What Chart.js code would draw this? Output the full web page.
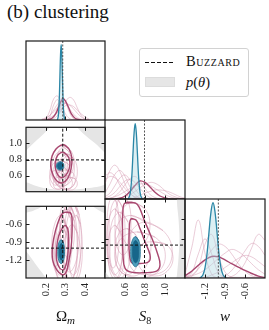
<!DOCTYPE html>
<html>
<head>
<meta charset="utf-8">
<script src="https://cdn.jsdelivr.net/npm/chart.js@4.4.1/dist/chart.umd.min.js"></script>
<style>
  body { margin: 0; width: 269px; height: 330px; background: #fff; position: relative; overflow: hidden;
         font-family: "Liberation Serif", serif; color: #111; }
  canvas { position: absolute; }
  #title { position: absolute; left: 7px; top: 1px; font-size: 19px; white-space: nowrap; }
  #legend { position: absolute; left: 139px; top: 48px; width: 110px; height: 49px; box-sizing: border-box;
            border: 1px solid #d2d2d2; border-radius: 3px; background: #fff; z-index: 5; }
  #legend .dash { position: absolute; left: 5px; top: 12.5px; width: 30px; height: 1.3px;
                  background: repeating-linear-gradient(to right, #111 0 4px, transparent 4px 6px); }
  #legend .box { position: absolute; left: 5px; top: 28px; width: 30px; height: 10px; box-sizing: border-box;
                 background: #e6e6e6; border: 1px solid #dcdcdc; }
  #legend .lab { position: absolute; left: 46px; font-size: 14.5px; line-height: 14px; white-space: nowrap; }
</style>
</head>
<body>
<div id="title">(b) clustering</div>
<div id="legend">
  <span class="dash"></span><span class="lab" style="top:5px; font-variant: small-caps; letter-spacing: 0.6px;">Buzzard</span>
  <span class="box"></span><span class="lab" style="top:26px;"><i>p</i>(<i>θ</i>)</span>
</div>
<script>
// ---- axes ----
const OM_RANGE = [0.1, 0.5];
const S8_RANGE = [0.4, 1.2];
const W_RANGE = [-1.5, -0.3];
const PDF_RANGE = [0, 1.05];
const OM_TICKS = [0.2, 0.3, 0.4];
const S8_TICKS = [0.6, 0.8, 1.0];
const W_TICKS = [-1.2, -0.9, -0.6];

// Buzzard truth
const TRUE_OM = 0.286;
const TRUE_S8 = 0.795;
const TRUE_W = -1.0;

// ---- 1D marginals ----
const OM_GRID = [0.18, 0.20, 0.22, 0.24, 0.26, 0.28, 0.30, 0.32, 0.34, 0.36, 0.38, 0.40, 0.42];
const OM_PINK = [
  [0.00, 0.02, 0.12, 0.28, 0.32, 0.20, 0.08, 0.02, 0.00, 0.00, 0.00, 0.00, 0.00],
  [0.00, 0.00, 0.00, 0.02, 0.06, 0.14, 0.24, 0.30, 0.27, 0.16, 0.06, 0.01, 0.00],
  [0.00, 0.02, 0.06, 0.13, 0.21, 0.25, 0.22, 0.15, 0.08, 0.03, 0.01, 0.00, 0.00],
  [0.01, 0.03, 0.06, 0.11, 0.16, 0.20, 0.22, 0.20, 0.15, 0.09, 0.04, 0.01, 0.00],
  [0.00, 0.00, 0.04, 0.20, 0.27, 0.13, 0.02, 0.00, 0.00, 0.00, 0.00, 0.00, 0.00],
  [0.00, 0.01, 0.03, 0.06, 0.10, 0.15, 0.19, 0.20, 0.18, 0.13, 0.08, 0.04, 0.01],
  [0.00, 0.00, 0.01, 0.05, 0.17, 0.29, 0.24, 0.10, 0.02, 0.00, 0.00, 0.00, 0.00]
];
const OM_MAIN = [[0.20, 0], [0.23, 0.02], [0.25, 0.08], [0.265, 0.17], [0.278, 0.25], [0.288, 0.285],
  [0.30, 0.25], [0.315, 0.17], [0.33, 0.08], [0.35, 0.02], [0.38, 0]];
const OM_TEAL = [[0.258, 0], [0.26, 0.011], [0.263, 0.044], [0.266, 0.135], [0.269, 0.32], [0.272, 0.61],
  [0.275, 0.88], [0.278, 1.0], [0.281, 0.88], [0.284, 0.61], [0.287, 0.32], [0.29, 0.135], [0.293, 0.044],
  [0.296, 0.011], [0.298, 0]];

const S8_GRID = [0.40, 0.45, 0.50, 0.55, 0.60, 0.65, 0.70, 0.75, 0.80, 0.85, 0.90, 0.95, 1.00, 1.05, 1.10, 1.15, 1.20];
const S8_PINK = [
  [0.20, 0.38, 0.45, 0.36, 0.20, 0.08, 0.02, 0, 0, 0, 0, 0, 0, 0, 0, 0, 0],
  [0.08, 0.20, 0.33, 0.38, 0.30, 0.16, 0.06, 0.01, 0, 0, 0, 0, 0, 0, 0, 0, 0],
  [0.03, 0.08, 0.18, 0.28, 0.32, 0.25, 0.14, 0.05, 0.01, 0, 0, 0, 0, 0, 0, 0, 0],
  [0.30, 0.35, 0.30, 0.18, 0.08, 0.02, 0, 0, 0, 0, 0, 0, 0, 0, 0, 0, 0],
  [0.01, 0.04, 0.09, 0.17, 0.24, 0.26, 0.22, 0.14, 0.07, 0.02, 0, 0, 0, 0, 0, 0, 0],
  [0, 0.01, 0.03, 0.06, 0.10, 0.14, 0.18, 0.20, 0.20, 0.18, 0.14, 0.10, 0.06, 0.03, 0.01, 0, 0],
  [0, 0, 0, 0.01, 0.03, 0.06, 0.10, 0.15, 0.19, 0.22, 0.21, 0.17, 0.11, 0.06, 0.03, 0.01, 0],
  [0, 0.01, 0.04, 0.10, 0.19, 0.27, 0.30, 0.24, 0.14, 0.06, 0.02, 0, 0, 0, 0, 0, 0],
  [0, 0, 0, 0, 0, 0, 0.02, 0.05, 0.08, 0.10, 0.12, 0.12, 0.11, 0.09, 0.06, 0.03, 0.01],
  [0.25, 0.30, 0.28, 0.22, 0.14, 0.07, 0.03, 0.01, 0, 0, 0, 0, 0, 0, 0, 0, 0]
];
const S8_MAIN = [[0.50, 0], [0.55, 0.01], [0.60, 0.04], [0.65, 0.10], [0.70, 0.18], [0.75, 0.24],
  [0.80, 0.22], [0.85, 0.16], [0.90, 0.09], [0.95, 0.04], [1.00, 0.015], [1.05, 0]];
const S8_TEAL = [[0.63, 0], [0.636, 0.011], [0.647, 0.044], [0.658, 0.135], [0.669, 0.32], [0.68, 0.61],
  [0.691, 0.88], [0.702, 1.0], [0.713, 0.88], [0.724, 0.61], [0.735, 0.32], [0.746, 0.135], [0.757, 0.044],
  [0.768, 0.011], [0.775, 0]];

const W_GRID = [-1.5, -1.4, -1.3, -1.2, -1.1, -1.0, -0.9, -0.8, -0.7, -0.6, -0.5, -0.4, -0.3];
const W_PINK = [
  [0.05, 0.40, 0.77, 0.33, 0.05, 0, 0, 0, 0, 0, 0, 0, 0],
  [0, 0, 0, 0, 0, 0, 0, 0.02, 0.08, 0.20, 0.40, 0.58, 0.50],
  [0, 0.02, 0.14, 0.45, 0.58, 0.30, 0.08, 0.01, 0, 0, 0, 0, 0],
  [0, 0, 0, 0, 0, 0, 0.03, 0.10, 0.22, 0.36, 0.46, 0.42, 0.30],
  [0.01, 0.04, 0.12, 0.24, 0.37, 0.45, 0.42, 0.32, 0.19, 0.09, 0.03, 0.01, 0],
  [0.01, 0.03, 0.06, 0.11, 0.18, 0.26, 0.33, 0.38, 0.35, 0.28, 0.19, 0.11, 0.05],
  [0.01, 0.07, 0.32, 0.52, 0.32, 0.07, 0.01, 0, 0, 0, 0, 0, 0],
  [0, 0, 0, 0.01, 0.04, 0.08, 0.14, 0.20, 0.26, 0.30, 0.28, 0.22, 0.15]
];
const W_MAIN = [[-1.5, 0.03], [-1.4, 0.09], [-1.3, 0.17], [-1.2, 0.24], [-1.1, 0.285], [-1.0, 0.28],
  [-0.9, 0.24], [-0.8, 0.19], [-0.7, 0.145], [-0.6, 0.10], [-0.5, 0.06], [-0.4, 0.025], [-0.3, 0.005]];
const W_TEAL = [[-1.28, 0], [-1.26, 0.011], [-1.23, 0.044], [-1.20, 0.135], [-1.17, 0.32], [-1.14, 0.61],
  [-1.11, 0.88], [-1.08, 1.0], [-1.05, 0.88], [-1.02, 0.61], [-0.99, 0.32], [-0.96, 0.135], [-0.93, 0.044],
  [-0.90, 0.011], [-0.88, 0]];
const PRIOR_1D = 0.015;

// ---- 2D: Omega_m vs S8 ----
const OMS8_PRIOR = [
  [[0.1, 1.25], [0.23, 1.25], [0.22, 1.2], [0.19, 1.12], [0.15, 1.03], [0.1, 0.91]],
  [[0.5, 1.25], [0.35, 1.25], [0.37, 1.17], [0.41, 1.08], [0.46, 0.98], [0.5, 0.88]],
  [[0.1, 0.3], [0.1, 0.51], [0.14, 0.48], [0.19, 0.445], [0.25, 0.425], [0.3, 0.42], [0.36, 0.43],
   [0.42, 0.445], [0.47, 0.465], [0.5, 0.48], [0.5, 0.3]]
];
const OMS8_PINK = [
  [[0.285, 0.78], [0.315, 0.74], [0.326, 0.62], [0.31, 0.5], [0.28, 0.46], [0.25, 0.5], [0.235, 0.62], [0.25, 0.74]],
  [[0.30, 0.67], [0.335, 0.64], [0.35, 0.55], [0.335, 0.46], [0.30, 0.43], [0.265, 0.46], [0.25, 0.55], [0.265, 0.64]],
  [[0.275, 0.9], [0.3, 0.84], [0.31, 0.7], [0.3, 0.56], [0.27, 0.5], [0.24, 0.56], [0.23, 0.7], [0.245, 0.84]],
  [[0.31, 0.87], [0.345, 0.8], [0.36, 0.65], [0.345, 0.5], [0.31, 0.43], [0.275, 0.5], [0.26, 0.65], [0.275, 0.8]],
  [[0.26, 0.67], [0.29, 0.64], [0.30, 0.55], [0.29, 0.46], [0.26, 0.43], [0.23, 0.46], [0.22, 0.55], [0.23, 0.64]],
  [[0.29, 0.95], [0.315, 0.9], [0.325, 0.78], [0.315, 0.66], [0.29, 0.61], [0.265, 0.66], [0.255, 0.78], [0.265, 0.9]],
  [[0.29, 0.7], [0.308, 0.67], [0.315, 0.6], [0.308, 0.53], [0.29, 0.5], [0.272, 0.53], [0.265, 0.6], [0.272, 0.67]],
  [[0.275, 0.8], [0.295, 0.765], [0.303, 0.68], [0.295, 0.595], [0.275, 0.56], [0.255, 0.595], [0.247, 0.68], [0.255, 0.765]],
  [[0.32, 0.58], [0.348, 0.56], [0.36, 0.5], [0.348, 0.44], [0.32, 0.42], [0.292, 0.44], [0.28, 0.5], [0.292, 0.56]],
  [[0.29, 0.97], [0.33, 0.9], [0.345, 0.72], [0.33, 0.54], [0.285, 0.47], [0.24, 0.54], [0.225, 0.72], [0.24, 0.9]],
  [[0.25, 0.76], [0.27, 0.72], [0.28, 0.62], [0.27, 0.52], [0.25, 0.48], [0.23, 0.52], [0.22, 0.62], [0.23, 0.72]],
  [[0.31, 0.84], [0.33, 0.805], [0.34, 0.72], [0.33, 0.635], [0.31, 0.6], [0.29, 0.635], [0.28, 0.72], [0.29, 0.805]],
  [[0.30, 0.6], [0.325, 0.57], [0.335, 0.5], [0.325, 0.45], [0.30, 0.43], [0.275, 0.45], [0.265, 0.5], [0.275, 0.57]],
  [[0.265, 0.58], [0.285, 0.55], [0.292, 0.5], [0.285, 0.45], [0.265, 0.43], [0.245, 0.45], [0.238, 0.5], [0.245, 0.55]]
];
const OMS8_MAIN = [
  [[0.295, 0.98], [0.318, 0.93], [0.332, 0.82], [0.328, 0.68], [0.312, 0.57], [0.285, 0.51], [0.258, 0.53],
   [0.238, 0.60], [0.225, 0.72], [0.232, 0.84], [0.252, 0.93], [0.275, 0.975]],
  [[0.29, 0.89], [0.31, 0.85], [0.322, 0.77], [0.318, 0.68], [0.30, 0.60], [0.28, 0.575], [0.262, 0.605],
   [0.25, 0.68], [0.248, 0.77], [0.26, 0.85], [0.277, 0.885]]
];
const OMS8_TEAL = [
  [[0.273, 0.772], [0.287, 0.758], [0.292, 0.72], [0.287, 0.682], [0.273, 0.668], [0.259, 0.682], [0.254, 0.72], [0.259, 0.758]],
  [[0.273, 0.76], [0.283, 0.749], [0.287, 0.72], [0.283, 0.691], [0.273, 0.68], [0.263, 0.691], [0.259, 0.72], [0.263, 0.749]]
];

// ---- 2D: Omega_m vs w ----
const OMW_PRIOR = [
  [[0.1, -0.2], [0.19, -0.2], [0.18, -0.3], [0.14, -0.37], [0.1, -0.41]],
  [[0.5, -0.2], [0.43, -0.2], [0.44, -0.3], [0.47, -0.37], [0.5, -0.42]],
  [[0.1, -1.6], [0.1, -1.07], [0.13, -1.18], [0.16, -1.32], [0.2, -1.5], [0.21, -1.6]]
];
const OMW_PINK = [
  [[0.30, -0.35], [0.325, -0.5], [0.33, -0.9], [0.32, -1.3], [0.285, -1.45], [0.255, -1.3], [0.25, -0.9], [0.27, -0.5]],
  [[0.33, -0.2], [0.36, -0.4], [0.37, -0.8], [0.355, -1.2], [0.32, -1.4], [0.285, -1.2], [0.27, -0.8], [0.29, -0.4]],
  [[0.31, -0.35], [0.345, -0.55], [0.36, -1.0], [0.345, -1.45], [0.30, -1.65], [0.255, -1.45], [0.24, -1.0], [0.265, -0.55]],
  [[0.345, -0.25], [0.37, -0.45], [0.38, -0.85], [0.37, -1.25], [0.34, -1.45], [0.31, -1.25], [0.30, -0.85], [0.315, -0.45]],
  [[0.285, -0.65], [0.305, -0.78], [0.315, -1.1], [0.305, -1.42], [0.28, -1.55], [0.255, -1.42], [0.245, -1.1], [0.26, -0.78]],
  [[0.315, -0.25], [0.335, -0.38], [0.345, -0.7], [0.335, -1.02], [0.31, -1.15], [0.285, -1.02], [0.275, -0.7], [0.29, -0.38]],
  [[0.275, -0.45], [0.3, -0.6], [0.31, -0.95], [0.3, -1.3], [0.27, -1.45], [0.24, -1.3], [0.23, -0.95], [0.245, -0.6]],
  [[0.335, -0.6], [0.36, -0.75], [0.375, -1.1], [0.36, -1.45], [0.33, -1.6], [0.3, -1.45], [0.285, -1.1], [0.305, -0.75]],
  [[0.3, -0.2], [0.32, -0.32], [0.33, -0.6], [0.32, -0.88], [0.3, -1.0], [0.28, -0.88], [0.27, -0.6], [0.28, -0.32]],
  [[0.355, -0.45], [0.375, -0.6], [0.385, -1.0], [0.375, -1.4], [0.35, -1.55], [0.325, -1.4], [0.32, -1.0], [0.33, -0.6]],
  [[0.325, -0.3], [0.35, -0.5], [0.36, -0.95], [0.35, -1.35], [0.325, -1.55], [0.3, -1.35], [0.29, -0.95], [0.3, -0.5]],
  [[0.29, -0.5], [0.31, -0.7], [0.32, -1.05], [0.31, -1.35], [0.29, -1.5], [0.27, -1.35], [0.26, -1.05], [0.27, -0.7]]
];
const OMW_MAIN = [
  [[0.30, -0.40], [0.325, -0.41], [0.333, -0.5], [0.333, -0.75], [0.328, -1.0], [0.315, -1.25], [0.30, -1.42],
   [0.28, -1.44], [0.255, -1.36], [0.235, -1.2], [0.235, -0.95], [0.25, -0.7], [0.27, -0.5], [0.285, -0.42]],
  [[0.30, -0.62], [0.312, -0.68], [0.315, -0.85], [0.313, -1.05], [0.305, -1.25], [0.29, -1.36], [0.27, -1.33],
   [0.255, -1.2], [0.255, -1.0], [0.265, -0.8], [0.285, -0.66]]
];
const OMW_TEAL = [
  [[0.278, -0.86], [0.29, -0.91], [0.295, -1.06], [0.29, -1.21], [0.278, -1.26], [0.266, -1.21], [0.261, -1.06], [0.266, -0.91]],
  [[0.279, -0.92], [0.287, -0.96], [0.29, -1.06], [0.287, -1.16], [0.279, -1.2], [0.271, -1.16], [0.268, -1.06], [0.271, -0.96]]
];

// ---- 2D: S8 vs w ----
const S8W_PRIOR = [
  [[1.25, -0.2], [1.13, -0.2], [1.12, -0.35], [1.135, -0.6], [1.145, -0.9], [1.135, -1.2], [1.12, -1.45], [1.11, -1.6], [1.25, -1.6]],
  [[0.38, -1.38], [0.43, -1.46], [0.45, -1.55], [0.38, -1.55]]
];
const S8W_PINK = [
  [[0.52, -0.3], [0.58, -0.45], [0.60, -0.9], [0.58, -1.35], [0.52, -1.5], [0.46, -1.35], [0.44, -0.9], [0.46, -0.45]],
  [[0.55, -0.5], [0.63, -0.65], [0.65, -1.0], [0.63, -1.35], [0.55, -1.5], [0.47, -1.35], [0.45, -1.0], [0.47, -0.65]],
  [[0.48, -0.25], [0.525, -0.4], [0.54, -0.8], [0.525, -1.2], [0.48, -1.35], [0.435, -1.2], [0.42, -0.8], [0.435, -0.4]],
  [[0.72, -0.8], [0.9, -0.88], [1.0, -1.1], [0.95, -1.38], [0.75, -1.5], [0.57, -1.42], [0.5, -1.2], [0.55, -0.92]],
  [[0.8, -0.65], [0.98, -0.78], [1.07, -1.05], [1.02, -1.35], [0.85, -1.45], [0.68, -1.38], [0.63, -1.1], [0.66, -0.8]],
  [[0.62, -0.75], [0.71, -0.85], [0.74, -1.1], [0.71, -1.35], [0.62, -1.45], [0.53, -1.35], [0.5, -1.1], [0.53, -0.85]],
  [[0.68, -0.35], [0.8, -0.45], [0.85, -0.7], [0.8, -0.95], [0.7, -1.05], [0.6, -0.95], [0.55, -0.7], [0.58, -0.45]],
  [[0.58, -0.25], [0.64, -0.38], [0.66, -0.7], [0.64, -1.02], [0.58, -1.15], [0.52, -1.02], [0.5, -0.7], [0.52, -0.38]],
  [[0.88, -0.95], [1.02, -1.0], [1.08, -1.2], [1.02, -1.4], [0.9, -1.47], [0.78, -1.4], [0.72, -1.2], [0.76, -1.0]],
  [[0.5, -0.7], [0.55, -0.8], [0.57, -1.1], [0.55, -1.4], [0.5, -1.52], [0.45, -1.4], [0.43, -1.1], [0.45, -0.8]],
  [[0.66, -0.55], [0.8, -0.65], [0.86, -1.0], [0.8, -1.35], [0.68, -1.47], [0.56, -1.35], [0.5, -1.0], [0.54, -0.65]],
  [[0.5, -0.45], [0.56, -0.6], [0.58, -1.0], [0.56, -1.3], [0.5, -1.45], [0.44, -1.3], [0.42, -1.0], [0.44, -0.6]]
];
const S8W_MAIN = [
  [[0.60, -0.36], [0.70, -0.36], [0.74, -0.42], [0.80, -0.65], [0.87, -0.9], [0.93, -1.15], [0.95, -1.3],
   [0.92, -1.39], [0.80, -1.42], [0.66, -1.41], [0.60, -1.35], [0.58, -1.15], [0.575, -0.8], [0.578, -0.5]],
  [[0.66, -0.6], [0.71, -0.62], [0.75, -0.75], [0.80, -0.95], [0.85, -1.15], [0.84, -1.25], [0.75, -1.28],
   [0.67, -1.27], [0.645, -1.15], [0.64, -0.9], [0.645, -0.7]]
];
const S8W_TEAL = [
  [[0.705, -0.87], [0.74, -0.94], [0.753, -1.1], [0.74, -1.26], [0.705, -1.33], [0.67, -1.26], [0.657, -1.1], [0.67, -0.94]],
  [[0.706, -0.93], [0.73, -0.98], [0.738, -1.1], [0.73, -1.22], [0.706, -1.27], [0.682, -1.22], [0.674, -1.1], [0.682, -0.98]]
];

// ---- styles ----
const SERIF = '"Liberation Serif", "DejaVu Serif", serif';
const PINK = 'rgba(212, 150, 176, 0.55)';
const CRIM = '#a8476f';
const TEAL = '#2a86a6';
const GREY = '#e5e5e5';

Chart.defaults.font.family = SERIF;

const pts = a => a.map(p => ({ x: p[0], y: p[1] }));
const loop = a => pts(a.concat([a[0], a[1]]));
const curve = (grid, ys) => grid.map((x, i) => ({ x, y: ys[i] }));

function line(data, color, width, extra) {
  return Object.assign({ data, showLine: true, borderColor: color, borderWidth: width,
    pointRadius: 0, tension: 0.4, fill: false }, extra || {});
}
function truth(data, color, dash, width) {
  return line(data, color, width, { tension: 0, borderDash: dash });
}
function layered(ds) {
  // first in list is drawn at the bottom
  ds.forEach((d, i) => { d.order = ds.length - i; });
  return ds;
}

function oneD(grid, pinks, main, teal, tv, xr) {
  const ds = [line(pts([[xr[0], PRIOR_1D], [xr[1], PRIOR_1D]]), GREY, 0, { fill: 'origin', backgroundColor: GREY, tension: 0 })];
  pinks.forEach(p => ds.push(line(curve(grid, p), PINK, 0.9)));
  ds.push(line(pts(main), CRIM, 1.4));
  ds.push(line(pts(teal), TEAL, 1.3, { fill: 'origin', backgroundColor: 'rgba(170, 215, 225, 0.4)' }));
  ds.push(truth(pts([[tv, 0], [tv, PDF_RANGE[1]]]), '#444', [2, 1.5], 0.9));
  return layered(ds);
}

function twoD(prior, pinks, main, teal, tx, ty, xr, yr) {
  const ds = [];
  prior.forEach(p => ds.push(line(pts(p), GREY, 0, { fill: 'shape', backgroundColor: GREY, tension: 0.3 })));
  pinks.forEach(p => ds.push(line(loop(p), PINK, 0.9)));
  main.forEach(p => ds.push(line(loop(p), CRIM, 1.4)));
  ds.push(line(loop(teal[0]), '#1f6e8e', 0.8, { fill: 'shape', backgroundColor: '#4f9dbb' }));
  ds.push(line(loop(teal[1]), '#17607f', 0.6, { fill: 'shape', backgroundColor: '#17668a' }));
  ds.push(truth(pts([[tx, yr[0]], [tx, yr[1]]]), '#111', [3, 2], 1));
  ds.push(truth(pts([[xr[0], ty], [xr[1], ty]]), '#111', [3, 2], 1));
  return layered(ds);
}

// frame, inward ticks and axis name
const panelDeco = {
  id: 'panelDeco',
  afterDatasetsDraw(chart, args, o) {
    const { ctx, chartArea: a } = chart;
    const x = chart.scales.x, y = chart.scales.y;
    ctx.save();
    ctx.strokeStyle = '#1a1a1a';
    ctx.lineWidth = 1;
    ctx.beginPath();
    o.xTicks.forEach(v => {
      const px = Math.round(x.getPixelForValue(v)) + 0.5;
      ctx.moveTo(px, a.bottom); ctx.lineTo(px, a.bottom - 3.5);
      if (o.all) { ctx.moveTo(px, a.top); ctx.lineTo(px, a.top + 3.5); }
    });
    (o.yTicks || []).forEach(v => {
      const py = Math.round(y.getPixelForValue(v)) + 0.5;
      ctx.moveTo(a.left, py); ctx.lineTo(a.left + 3.5, py);
      ctx.moveTo(a.right, py); ctx.lineTo(a.right - 3.5, py);
    });
    ctx.stroke();
    ctx.lineWidth = 1.2;
    ctx.strokeRect(a.left, a.top, a.right - a.left, a.bottom - a.top);
    if (o.name) {
      ctx.fillStyle = '#111';
      ctx.textBaseline = 'alphabetic';
      let w = 0;
      o.name.forEach(p => { ctx.font = p.font; w += ctx.measureText(p.t).width; });
      let cx = (a.left + a.right) / 2 - w / 2;
      o.name.forEach(p => {
        ctx.font = p.font;
        ctx.fillText(p.t, cx, o.nameY + (p.dy || 0));
        cx += ctx.measureText(p.t).width;
      });
    }
    ctx.restore();
  }
};

function axis(range, ticks, show, isX) {
  const s = {
    type: 'linear', min: range[0], max: range[1], display: show,
    grid: { display: false, drawTicks: false }, border: { display: false },
    ticks: { autoSkip: false, color: '#222', font: { size: 10.5 }, padding: isX ? 5 : 4,
             callback: v => Number(v).toFixed(1) }
  };
  if (ticks) s.afterBuildTicks = sc => { sc.ticks = ticks.map(v => ({ value: v })); };
  if (isX) { s.ticks.minRotation = 90; s.ticks.maxRotation = 90; }
  if (show) s.afterFit = isX ? (sc => { sc.height = 52; }) : (sc => { sc.width = 26; });
  return s;
}

function panel(box, datasets, cfg) {
  const c = document.createElement('canvas');
  c.width = box[2]; c.height = box[3];
  c.style.left = box[0] + 'px'; c.style.top = box[1] + 'px';
  document.body.appendChild(c);
  return new Chart(c.getContext('2d'), {
    type: 'scatter',
    data: { datasets },
    options: {
      responsive: false, animation: false, events: [],
      layout: { padding: cfg.pad },
      plugins: { legend: { display: false }, tooltip: { enabled: false }, panelDeco: cfg.deco },
      scales: {
        x: axis(cfg.xr, cfg.xTicks, cfg.showX, true),
        y: axis(cfg.yr, cfg.yTicks, cfg.showY, false)
      }
    },
    plugins: [panelDeco]
  });
}

const NAME_Y = 125;
const P3 = { left: 3, right: 3, top: 3, bottom: 3 };

// column 1: Omega_m
panel([23, 38, 85, 85], oneD(OM_GRID, OM_PINK, OM_MAIN, OM_TEAL, TRUE_OM, OM_RANGE),
  { xr: OM_RANGE, yr: PDF_RANGE, xTicks: OM_TICKS, yTicks: null, showX: false, showY: false, pad: P3,
    deco: { xTicks: OM_TICKS } });
panel([0, 117, 108, 85], twoD(OMS8_PRIOR, OMS8_PINK, OMS8_MAIN, OMS8_TEAL, TRUE_OM, TRUE_S8, OM_RANGE, S8_RANGE),
  { xr: OM_RANGE, yr: S8_RANGE, xTicks: OM_TICKS, yTicks: S8_TICKS, showX: false, showY: true,
    pad: { left: 0, right: 3, top: 3, bottom: 3 }, deco: { xTicks: OM_TICKS, yTicks: S8_TICKS, all: true } });
panel([0, 196, 108, 134], twoD(OMW_PRIOR, OMW_PINK, OMW_MAIN, OMW_TEAL, TRUE_OM, TRUE_W, OM_RANGE, W_RANGE),
  { xr: OM_RANGE, yr: W_RANGE, xTicks: OM_TICKS, yTicks: W_TICKS, showX: true, showY: true,
    pad: { left: 0, right: 3, top: 3, bottom: 0 },
    deco: { xTicks: OM_TICKS, yTicks: W_TICKS, all: true, nameY: NAME_Y,
            name: [{ t: 'Ω', font: '15px ' + SERIF }, { t: 'm', font: 'italic 11px ' + SERIF, dy: 3 }] } });

// column 2: S8
panel([102, 117, 86, 85], oneD(S8_GRID, S8_PINK, S8_MAIN, S8_TEAL, TRUE_S8, S8_RANGE),
  { xr: S8_RANGE, yr: PDF_RANGE, xTicks: S8_TICKS, yTicks: null, showX: false, showY: false, pad: P3,
    deco: { xTicks: S8_TICKS } });
panel([102, 196, 86, 134], twoD(S8W_PRIOR, S8W_PINK, S8W_MAIN, S8W_TEAL, TRUE_S8, TRUE_W, S8_RANGE, W_RANGE),
  { xr: S8_RANGE, yr: W_RANGE, xTicks: S8_TICKS, yTicks: W_TICKS, showX: true, showY: false,
    pad: { left: 3, right: 3, top: 3, bottom: 0 },
    deco: { xTicks: S8_TICKS, yTicks: W_TICKS, all: true, nameY: NAME_Y,
            name: [{ t: 'S', font: 'italic 15px ' + SERIF }, { t: '8', font: '10px ' + SERIF, dy: 3 }] } });

// column 3: w
panel([182, 196, 86, 134], oneD(W_GRID, W_PINK, W_MAIN, W_TEAL, TRUE_W, W_RANGE),
  { xr: W_RANGE, yr: PDF_RANGE, xTicks: W_TICKS, yTicks: null, showX: true, showY: false,
    pad: { left: 3, right: 3, top: 3, bottom: 0 },
    deco: { xTicks: W_TICKS, nameY: NAME_Y, name: [{ t: 'w', font: 'italic 15px ' + SERIF }] } });
</script>
</body>
</html>
